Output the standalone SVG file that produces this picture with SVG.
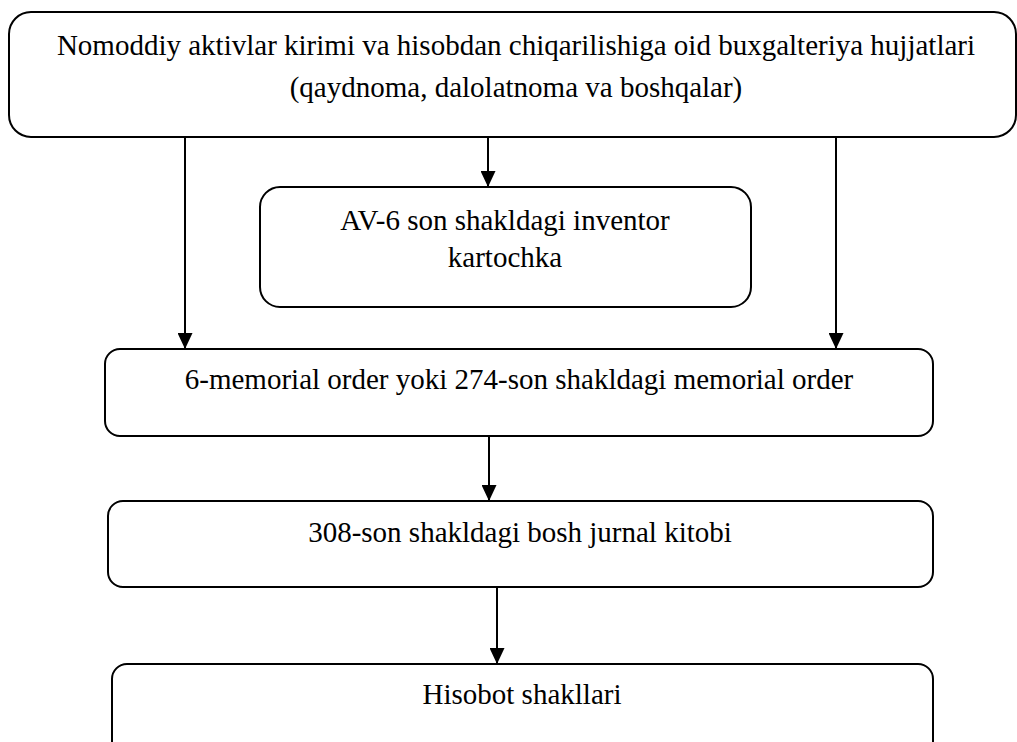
<svg xmlns="http://www.w3.org/2000/svg" width="1017" height="742" viewBox="0 0 1017 742">
<style>
.box{fill:#fff;stroke:#000;stroke-width:2}
.t{font-family:'Liberation Serif','Times New Roman','DejaVu Serif',serif;font-size:29px;fill:#000;text-anchor:middle}
.c{stroke:#000;stroke-width:2;fill:none}
</style>
<defs>
<marker id="ah" markerWidth="16" markerHeight="15" refX="16" refY="7.5" orient="auto" markerUnits="userSpaceOnUse">
<path d="M0,0 L16,7.5 L0,15 Z" fill="#000"/>
</marker>
</defs>
<rect width="1017" height="742" fill="#fff"/>
<g id="connectors">
<line class="c" x1="185" y1="137" x2="185" y2="349" marker-end="url(#ah)"/>
<line class="c" x1="488" y1="137" x2="488" y2="187" marker-end="url(#ah)"/>
<line class="c" x1="836" y1="137" x2="836" y2="349" marker-end="url(#ah)"/>
<line class="c" x1="489" y1="436" x2="489" y2="501" marker-end="url(#ah)"/>
<line class="c" x1="497" y1="587" x2="497" y2="664" marker-end="url(#ah)"/>
</g>
<g id="n1">
<rect class="box" x="9" y="12" width="1007" height="125" rx="22"/>
<text class="t" x="516" y="55">Nomoddiy aktivlar kirimi va hisobdan chiqarilishiga oid buxgalteriya hujjatlari</text>
<text class="t" x="516" y="97">(qaydnoma, dalolatnoma va boshqalar)</text>
</g>
<g id="n2">
<rect class="box" x="260" y="187" width="491" height="120" rx="20"/>
<text class="t" x="505" y="230">AV-6 son shakldagi inventor</text>
<text class="t" x="505" y="267">kartochka</text>
</g>
<g id="n3">
<rect class="box" x="105" y="349" width="828" height="87" rx="15"/>
<text class="t" x="519" y="389">6-memorial order yoki 274-son shakldagi memorial order</text>
</g>
<g id="n4">
<rect class="box" x="108" y="501" width="825" height="86" rx="15"/>
<text class="t" x="520" y="542">308-son shakldagi bosh jurnal kitobi</text>
</g>
<g id="n5">
<rect class="box" x="112" y="664" width="821" height="100" rx="15"/>
<text class="t" x="522" y="704">Hisobot shakllari</text>
</g>
</svg>
